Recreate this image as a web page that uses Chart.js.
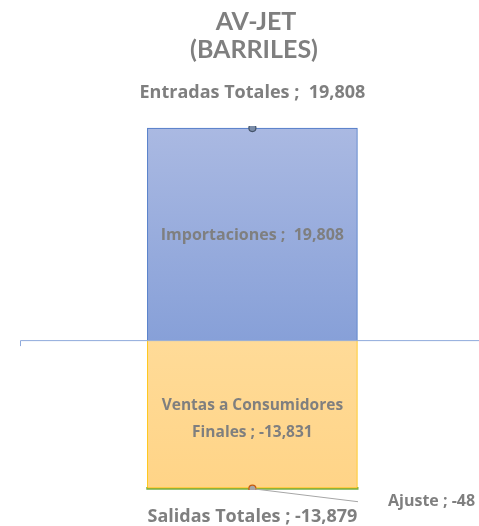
<!DOCTYPE html>
<html>
<head>
<meta charset="utf-8">
<script src="https://cdn.jsdelivr.net/npm/chart.js@4.4.1/dist/chart.umd.min.js"></script>
<style>
  html, body { margin: 0; padding: 0; background: #fff; }
  #wrap { width: 479px; height: 526px; }
</style>
</head>
<body>
<div id="wrap"><canvas id="chart" width="479" height="526"></canvas></div>
<script>
const categories = ['AV-JET'];
const titleLines = ['AV-JET', '(BARRILES)'];
const importaciones = [19808];
const ventas = [-13831];
const ajuste = [-48];
const entradasTotales = [19808];
const salidasTotales = [-13879];

const textGray = '#7f7f7f';
const titleFont = '"Lato", "Open Sans", sans-serif';
const font = '"Open Sans", "Lato", sans-serif';
const fmt = v => v.toLocaleString('en-US');

function gradient(ctx, from, to, c1, c2, fallback) {
  const chart = ctx.chart;
  const y = chart.scales.y;
  if (!chart.chartArea || !y) return fallback;
  const a = y.getPixelForValue(from), b = y.getPixelForValue(to);
  if (!isFinite(a) || !isFinite(b)) return fallback;
  const g = chart.ctx.createLinearGradient(0, a, 0, b);
  g.addColorStop(0, c1);
  g.addColorStop(1, c2);
  return g;
}
const blueFill = ctx => gradient(ctx, importaciones[0], 0, '#AAB9E2', '#87A0D8', '#98ADDE');
const orangeFill = ctx => gradient(ctx, 0, ventas[0], '#FFDB98', '#FFD487', '#FFD994');

const labelsPlugin = {
  id: 'labels',
  afterDraw(chart) {
    const c = chart.ctx;
    const y = chart.scales.y;
    const zero = y.getPixelForValue(0);
    c.save();

    // zero axis line with left tick
    c.strokeStyle = '#8FAADC';
    c.lineWidth = 1;
    c.beginPath();
    c.moveTo(20.5, zero + 6);
    c.lineTo(20.5, zero + 0.5);
    c.lineTo(chart.width, zero + 0.5);
    c.stroke();

    c.fillStyle = textGray;
    c.textAlign = 'center';
    c.textBaseline = 'middle';

    // title
    c.font = 'bold 25px ' + titleFont;
    c.fillText(titleLines[0], 256, 22);
    c.fillText(titleLines[1], 254, 50);

    const imp = chart.getDatasetMeta(0).data[0];
    const ven = chart.getDatasetMeta(1).data[0];
    const ent = chart.getDatasetMeta(3).data[0];
    const sal = chart.getDatasetMeta(4).data[0];

    c.font = 'bold 18px ' + font;
    c.fillText('Entradas Totales ;  ' + fmt(entradasTotales[0]), ent.x, ent.y - 35);
    c.fillText('Salidas Totales ; ' + fmt(salidasTotales[0]), sal.x, sal.y + 28);

    c.font = 'bold 16px ' + font;
    c.fillText('Importaciones ;  ' + fmt(importaciones[0]), imp.x, (imp.y + imp.base) / 2 + 1);
    c.font = 'bold 15.5px ' + font;
    const vm = (ven.y + ven.base) / 2;
    c.fillText('Ventas a Consumidores', ven.x, vm - 9);
    c.fillText('Finales ; ' + fmt(ventas[0]), ven.x, vm + 18);

    // leader line to Ajuste label
    c.strokeStyle = '#a6a6a6';
    c.beginPath();
    c.moveTo(sal.x, sal.y);
    c.lineTo(358, sal.y + 13);
    c.stroke();
    c.font = 'bold 16px ' + font;
    c.textAlign = 'left';
    c.fillText('Ajuste ; ' + fmt(ajuste[0]), 388, sal.y + 13);

    c.restore();
  }
};

new Chart(document.getElementById('chart'), {
  data: {
    labels: categories,
    datasets: [
      { type: 'bar', label: 'Importaciones', data: importaciones, stack: 'bars',
        backgroundColor: blueFill, borderColor: '#4472C4', borderWidth: 1, order: 2 },
      { type: 'bar', label: 'Ventas a Consumidores Finales', data: ventas, stack: 'bars',
        backgroundColor: orangeFill, borderColor: '#FFC000', borderWidth: 1, order: 2 },
      { type: 'bar', label: 'Ajuste', data: ajuste, stack: 'bars',
        backgroundColor: '#70AD47', borderWidth: 0, inflateAmount: 1.1, order: 2 },
      { type: 'line', label: 'Entradas Totales', data: entradasTotales, stack: 'ent',
        pointRadius: 3.5, pointBackgroundColor: '#7A8CA8', pointBorderColor: '#44546A', pointBorderWidth: 1.2, showLine: false, order: 1 },
      { type: 'line', label: 'Salidas Totales', data: salidasTotales, stack: 'sal',
        pointRadius: 3.5, pointBackgroundColor: '#A5A5A5', pointBorderColor: '#C55A11', pointBorderWidth: 1.2, showLine: false, order: 1 }
    ]
  },
  options: {
    responsive: false,
    animation: false,
    layout: { padding: { top: 126, bottom: 36, left: 31, right: 0 } },
    plugins: { legend: { display: false }, title: { display: false }, tooltip: { enabled: false } },
    scales: {
      x: { display: false, stacked: true, offset: true },
      y: { display: false, stacked: true, min: -14000, max: 20000 }
    },
    datasets: { bar: { barThickness: 210 } }
  },
  plugins: [labelsPlugin]
});
</script>
</body>
</html>
